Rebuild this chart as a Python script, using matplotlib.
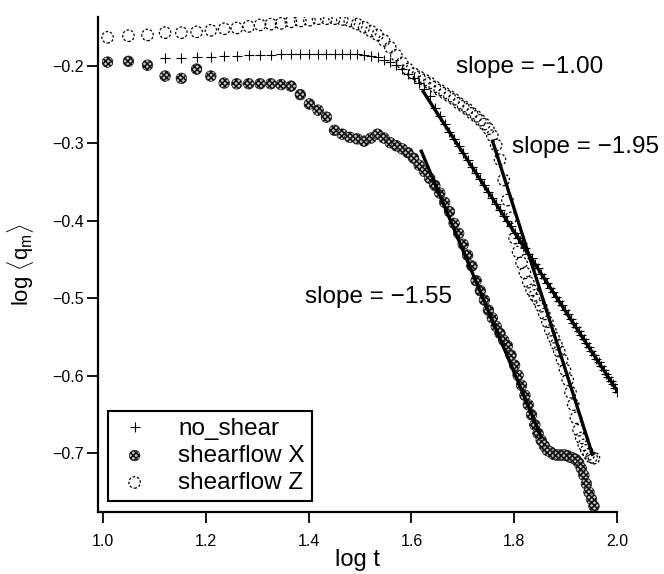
import numpy as np
import matplotlib
matplotlib.use("Agg")
import matplotlib.pyplot as plt

plt.rcParams['font.family'] = ['Liberation Sans', 'DejaVu Sans']
plt.rcParams['mathtext.fontset'] = 'custom'
plt.rcParams['mathtext.rm'] = 'Liberation Sans'
plt.rcParams['hatch.linewidth'] = 1.1

# time grids (log t)
log_t_shear = np.log10(np.arange(10.2, 90.3, 1.0))      # shearflow X / Z
log_t_noshear = np.log10(np.arange(13.2, 100.3, 1.0))   # no_shear

no_shear = [
    -0.190, -0.190, -0.188, -0.188, -0.187, -0.187, -0.186, -0.186, -0.186, -0.185,
    -0.185, -0.184, -0.184, -0.184, -0.184, -0.184, -0.184, -0.185, -0.185, -0.186,
    -0.187, -0.189, -0.192, -0.195, -0.199, -0.204, -0.210, -0.215, -0.222, -0.230,
    -0.239, -0.254, -0.265, -0.275, -0.285, -0.294, -0.303, -0.312, -0.321, -0.330,
    -0.338, -0.346, -0.354, -0.362, -0.370, -0.378, -0.386, -0.393, -0.400, -0.407,
    -0.415, -0.422, -0.428, -0.435, -0.442, -0.448, -0.455, -0.461, -0.468, -0.474,
    -0.480, -0.486, -0.492, -0.498, -0.503, -0.509, -0.515, -0.520, -0.526, -0.531,
    -0.537, -0.542, -0.547, -0.552, -0.558, -0.563, -0.568, -0.573, -0.578, -0.582,
    -0.587, -0.592, -0.597, -0.601, -0.606, -0.610, -0.615, -0.621,
]

shearflow_x = [
    -0.195, -0.194, -0.199, -0.213, -0.216, -0.204, -0.213, -0.222, -0.223, -0.223,
    -0.223, -0.223, -0.224, -0.226, -0.237, -0.249, -0.257, -0.266, -0.283, -0.288,
    -0.292, -0.294, -0.297, -0.293, -0.288, -0.293, -0.299, -0.303, -0.307, -0.312,
    -0.319, -0.328, -0.336, -0.345, -0.354, -0.364, -0.376, -0.388, -0.403, -0.416,
    -0.430, -0.444, -0.458, -0.477, -0.490, -0.502, -0.515, -0.525, -0.536, -0.545,
    -0.554, -0.561, -0.573, -0.586, -0.599, -0.612, -0.625, -0.637, -0.650, -0.663,
    -0.674, -0.683, -0.690, -0.696, -0.698, -0.701, -0.702, -0.702, -0.702, -0.702,
    -0.703, -0.705, -0.706, -0.708, -0.712, -0.719, -0.728, -0.739, -0.750, -0.759, -0.768,
]

shearflow_z = [
    -0.163, -0.161, -0.160, -0.157, -0.157, -0.156, -0.154, -0.152, -0.151, -0.149,
    -0.147, -0.146, -0.145, -0.143, -0.142, -0.141, -0.139, -0.139, -0.139, -0.140,
    -0.142, -0.146, -0.150, -0.155, -0.160, -0.167, -0.176, -0.186, -0.196, -0.204,
    -0.210, -0.214, -0.218, -0.222, -0.227, -0.231, -0.235, -0.239, -0.243, -0.248,
    -0.252, -0.256, -0.261, -0.265, -0.270, -0.275, -0.281, -0.290, -0.302, -0.321,
    -0.347, -0.373, -0.396, -0.422, -0.440, -0.454, -0.467, -0.479, -0.489, -0.496,
    -0.502, -0.510, -0.520, -0.530, -0.541, -0.550, -0.559, -0.568, -0.579, -0.592,
    -0.605, -0.621, -0.637, -0.654, -0.670, -0.680, -0.689, -0.696, -0.701, -0.705, -0.706,
]

# fitted segments: (x0, x1), (y0, y1) and their labels
fit_x = [(1.621, 2.003), (1.757, 1.953), (1.618, 1.854)]
fit_y = [(-0.231, -0.622), (-0.295, -0.703), (-0.308, -0.681)]
fit_labels = ["slope = \u22121.00", "slope = \u22121.95", "slope = \u22121.55"]
label_pos = [(1.687, -0.201), (1.795, -0.3045), (1.393, -0.498)]

fig = plt.figure(figsize=(6.64, 5.74), dpi=100)
ax = fig.add_axes([0.1476, 0.108, 0.7816, 0.8624])

ax.plot(log_t_noshear, no_shear, linestyle='none', marker='+', ms=7.5, mew=0.8,
        color='black', label='no_shear', zorder=3)
ax.scatter(log_t_shear, shearflow_x, s=58, marker='o', facecolors='#c8c8c8',
           edgecolors='#111111', linewidths=0.5, hatch='xxxxxx',
           label='shearflow X', zorder=2)
ax.scatter(log_t_shear, shearflow_z, s=68, marker='o', facecolors='none',
           edgecolors='black', linewidths=0.9, linestyles=(0, (2, 1.5)),
           label='shearflow Z', zorder=2)

for xs, ys in zip(fit_x, fit_y):
    ax.plot(xs, ys, color='black', lw=2.4, solid_capstyle='butt', zorder=4)
for (tx, ty), lab in zip(label_pos, fit_labels):
    ax.text(tx, ty, lab, fontsize=17.5, ha='left', va='center')

ax.set_xlim(0.99, 2.0)
ax.set_ylim(-0.7755, -0.1368)
ax.set_xticks([1.0, 1.2, 1.4, 1.6, 1.8, 2.0])
ax.set_xticklabels(['1.0', '1.2', '1.4', '1.6', '1.8', '2.0'])
ax.set_yticks([-0.2, -0.3, -0.4, -0.5, -0.6, -0.7])
ax.set_yticklabels(['\u22120.2', '\u22120.3', '\u22120.4', '\u22120.5', '\u22120.6', '\u22120.7'])
ax.tick_params(axis='x', direction='out', length=8, width=1.3, labelsize=11.5, pad=8)
ax.tick_params(axis='y', direction='out', length=8, width=1.3, labelsize=11.5, pad=2)
for side in ['top', 'right']:
    ax.spines[side].set_visible(False)
for side in ['left', 'bottom']:
    ax.spines[side].set_linewidth(1.6)

ax.set_xlabel('log t', fontsize=17, labelpad=0)
ax.set_ylabel(r'log $\langle\mathrm{q_m}\rangle$', fontsize=16, labelpad=12)

leg = ax.legend(loc='lower left', bbox_to_anchor=(0.019, 0.022), borderaxespad=0,
                fontsize=17.5, fancybox=False, framealpha=1, edgecolor='black',
                handletextpad=1.0, labelspacing=0.2, borderpad=0.3, handlelength=1.6)
leg.get_frame().set_linewidth(1.5)

fig.savefig('out.png', dpi=100)
